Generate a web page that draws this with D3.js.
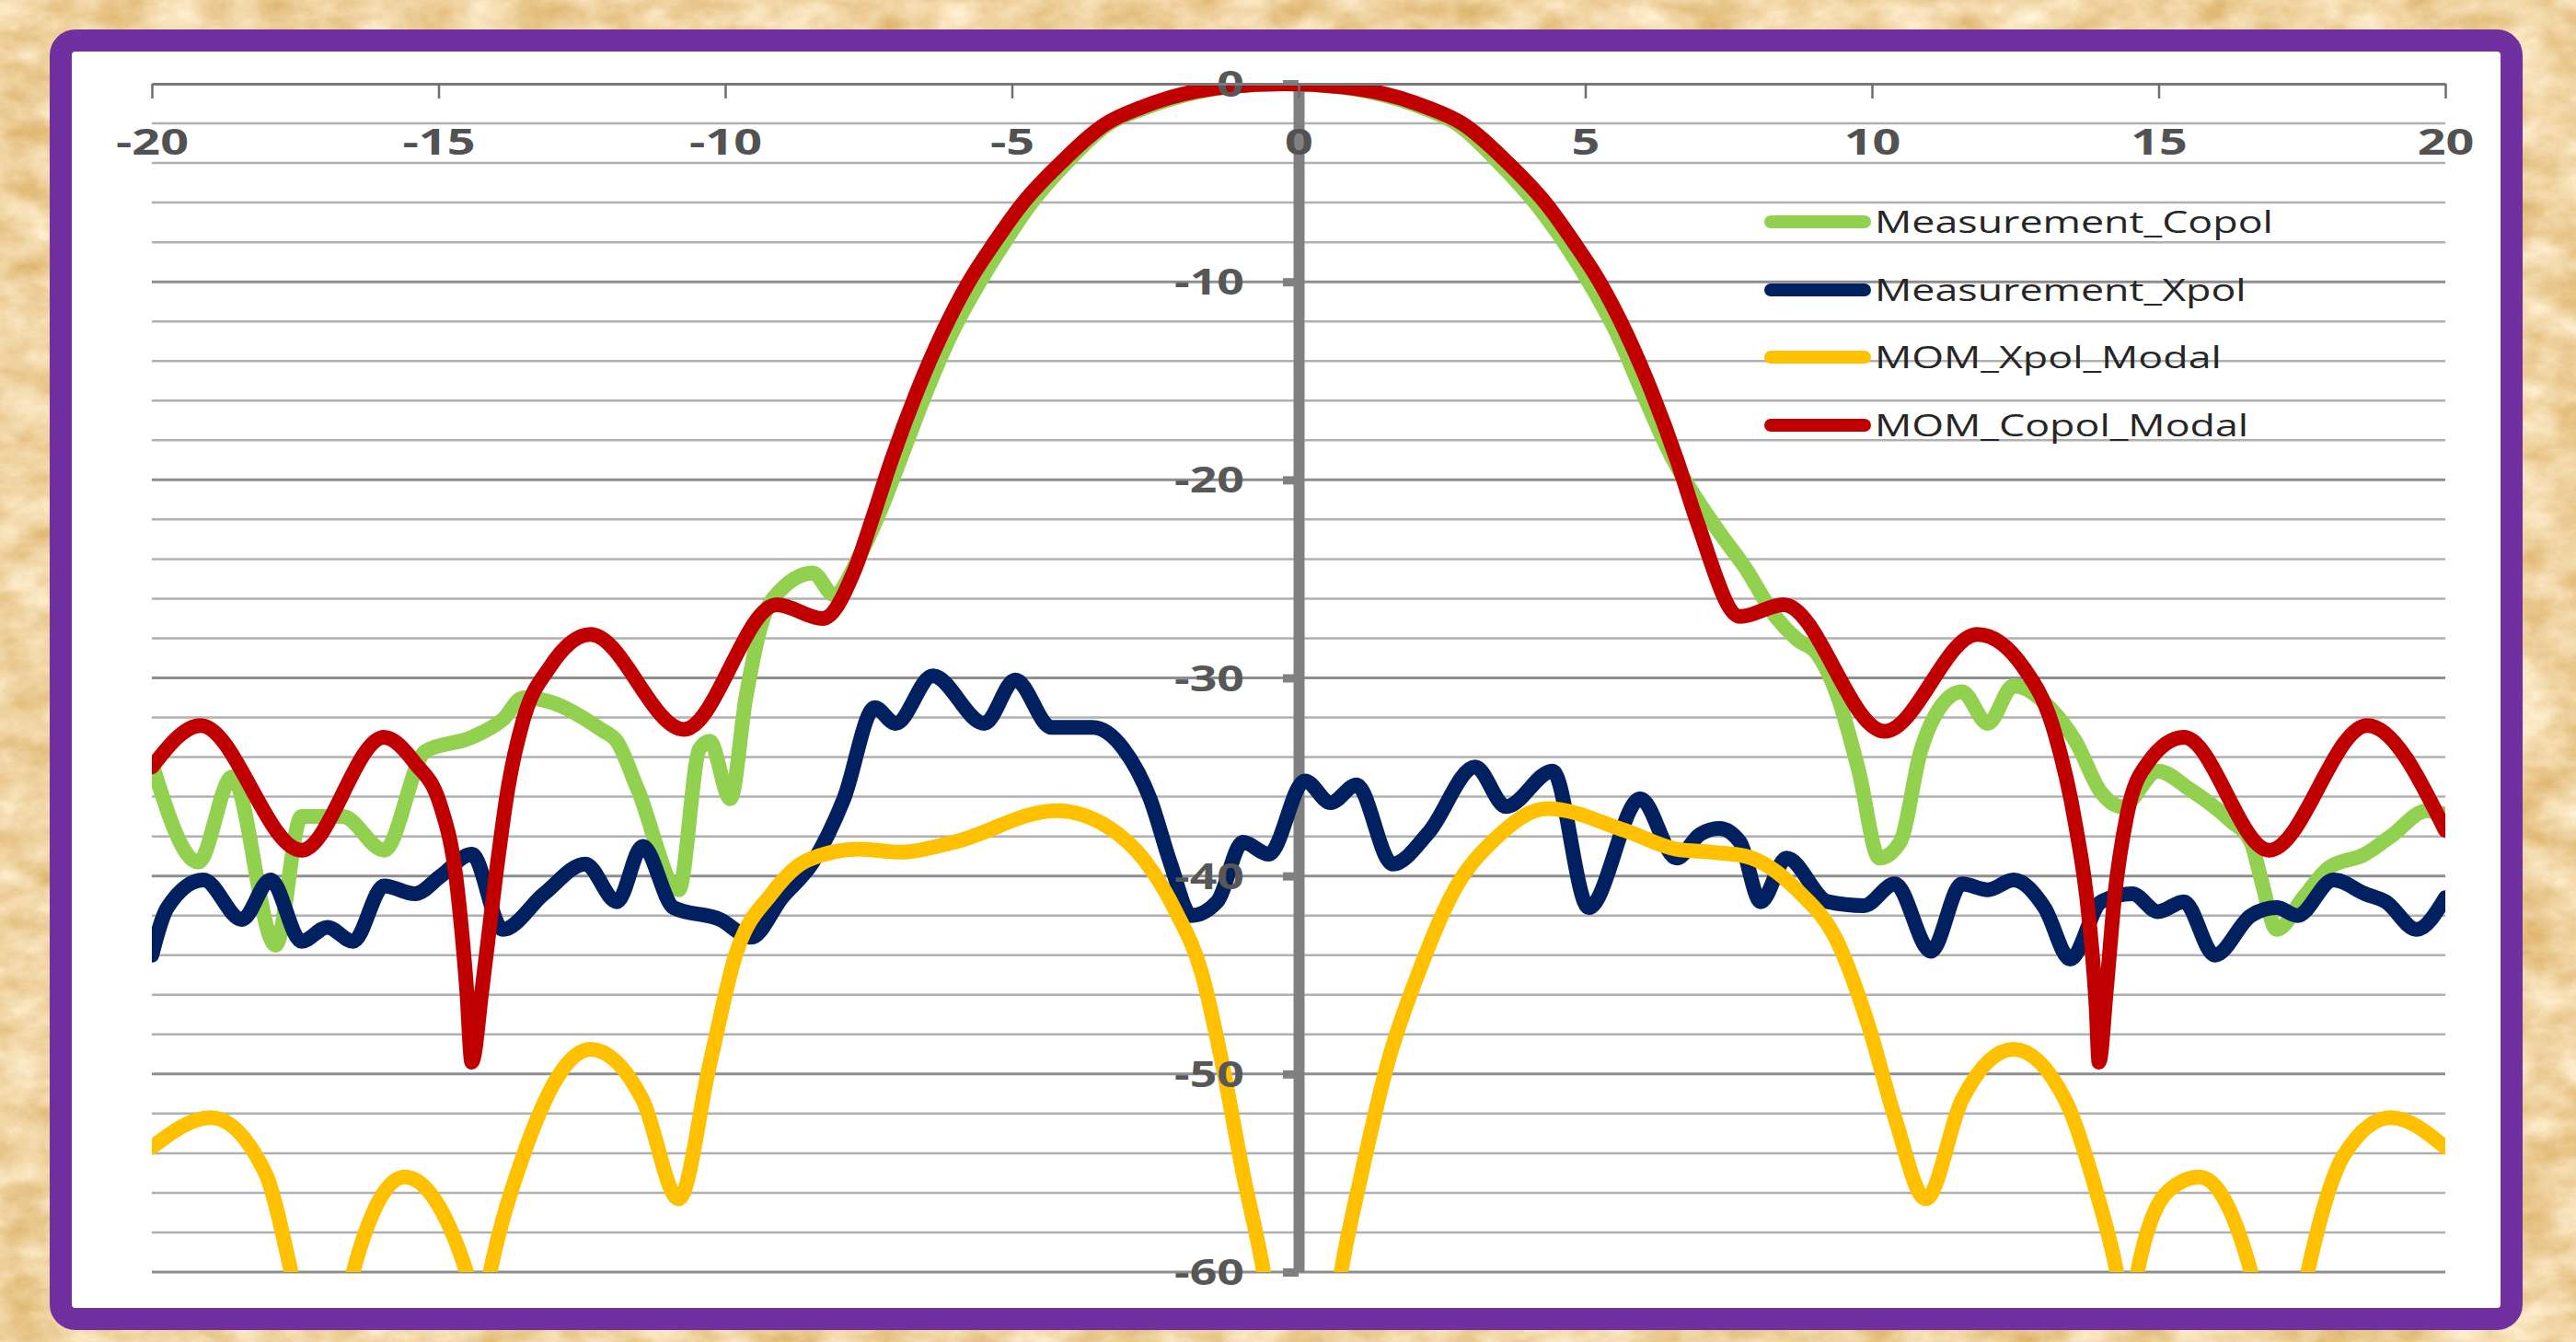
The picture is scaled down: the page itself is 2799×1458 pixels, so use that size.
<!DOCTYPE html>
<html><head><meta charset="utf-8">
<script src="https://cdn.jsdelivr.net/npm/d3@7"></script>
<style>html,body{margin:0;padding:0;background:#efd3a0;overflow:hidden}</style>
</head><body>
<svg id="chart" width="2799" height="1458"></svg>
<script>
// ---------------- DATA ----------------
const seriesNames = ["Measurement_Copol", "Measurement_Xpol", "MOM_Xpol_Modal", "MOM_Copol_Modal"];
const seriesColors = ["#92d050", "#002060", "#ffc000", "#c00000"];
const xTickValues = [-20, -15, -10, -5, 0, 5, 10, 15, 20];
const yTickValues = [0, -10, -20, -30, -40, -50, -60];
const yGridValues = [-2,-4,-6,-8,-10,-12,-14,-16,-18,-20,-22,-24,-26,-28,-30,-32,-34,-36,-38,-40,-42,-44,-46,-48,-50,-52,-54,-56,-58,-60];

// Measurement_Copol
const measCopolAngles = [-20,-19.19,-18.6,-17.84,-17.39,-16.67,-15.95,-15.23,-14.42,-13.88,-13.52,-13.07,-12.17,-11.89,-11.53,-10.81,-10.45,-10.27,-9.91,-9.64,-9.37,-9.01,-8.47,-8.11,-7.65,-7.3,-6.95,-6.5,-6.05,-5.6,-5.15,-4.68,-4.05,-3.3,-2.7,-2.2,-1.2,-0.25,0.7,1.7,2.2,2.75,3.5,4.15,4.65,5.1,5.55,6.0,6.5,6.95,7.35,7.78,8.33,8.69,9.05,9.41,9.77,10.13,10.49,10.85,11.21,11.57,12.02,12.47,13.1,13.55,14.0,14.36,14.99,15.53,16.25,16.61,16.79,17.06,17.52,17.96,18.6,19.05,19.68,20];
const measCopolValues = [-34.3,-39.3,-35.0,-43.5,-37.0,-37.0,-38.7,-33.7,-33.0,-32.1,-31.0,-31.2,-32.6,-33.2,-35.6,-40.7,-33.6,-33.2,-36.1,-31.0,-27.3,-25.5,-24.7,-25.8,-23.8,-21.6,-19.0,-15.6,-12.6,-10.2,-8.1,-6.1,-4.0,-2.0,-1.25,-0.75,-0.15,0,-0.15,-0.75,-1.25,-2.0,-4.0,-6.1,-8.1,-10.2,-12.6,-15.6,-18.8,-21.0,-22.7,-24.4,-26.95,-28.05,-28.8,-31.0,-34.7,-39.1,-38.3,-33.7,-31.4,-30.7,-32.3,-30.4,-31.5,-33.2,-35.8,-36.5,-34.7,-35.6,-37.2,-38.3,-40.2,-42.7,-41.1,-39.6,-38.9,-38.0,-36.7,-36.9];

// Measurement_Xpol
const measXpolAngles = [-20,-19.73,-19.1,-18.43,-17.93,-17.39,-16.94,-16.49,-15.95,-15.41,-14.96,-14.42,-13.88,-13.16,-12.44,-11.89,-11.44,-10.9,-10.09,-9.55,-9.01,-8.47,-7.93,-7.39,-7.03,-6.38,-5.48,-4.94,-4.31,-3.59,-3.05,-2.59,-2.23,-1.87,-1.42,-0.97,-0.52,0.11,0.56,1.01,1.64,2.27,3.08,3.62,4.43,5.06,5.96,6.59,7.0,7.34,7.7,8.06,8.51,9.23,9.86,10.4,11.03,11.57,12.02,12.47,13.01,13.46,14.0,14.54,14.99,15.44,15.98,16.61,17.06,17.42,18.05,18.6,18.96,19.5,20];
const measXpolValues = [-44.0,-41.6,-40.2,-42.2,-40.2,-43.3,-42.6,-43.3,-40.5,-40.9,-40.0,-38.9,-42.7,-40.9,-39.4,-41.3,-38.5,-41.6,-42.2,-43.1,-41.1,-39.3,-36.1,-31.5,-32.3,-29.9,-32.3,-30.1,-32.5,-32.5,-33.6,-36.1,-39.4,-42.0,-41.3,-38.3,-38.9,-35.2,-36.3,-35.4,-39.4,-37.8,-34.5,-36.5,-34.7,-41.6,-36.1,-39.1,-37.9,-37.6,-38.3,-41.3,-39.1,-41.3,-41.5,-40.4,-43.8,-40.4,-40.7,-40.2,-41.6,-44.2,-41.3,-40.9,-41.8,-41.3,-44.0,-42.0,-41.6,-42.0,-40.2,-40.9,-41.3,-42.7,-41.1];

// MOM_Xpol_Modal
const momXpolAngles = [-20,-18.97,-18.02,-17.57,-17.0,-16.49,-15.59,-14.51,-14.3,-14.1,-13.52,-12.35,-11.44,-10.81,-10.27,-9.82,-9.19,-8.56,-7.66,-6.92,-6.02,-4.22,-3.31,-2.69,-2.14,-1.69,-1.33,-0.97,-0.61,0.06,0.74,1.1,1.55,2.09,2.72,3.44,4.34,5.69,6.59,7.21,7.79,8.69,9.41,9.95,10.4,10.94,11.57,12.47,13.37,13.91,14.27,14.45,14.63,15.17,15.71,16.61,17.1,17.6,18.23,19.05,20];
const momXpolValues = [-53.7,-52.2,-55.0,-60,-68,-60,-55.2,-60,-63,-60,-54.1,-48.75,-51.3,-56.3,-49.5,-44.0,-40.9,-39.2,-38.65,-38.8,-38.3,-36.7,-37.55,-39.2,-41.8,-44.9,-49.5,-55.0,-60,-75,-60,-55.0,-49.5,-44.9,-40.7,-38.1,-36.6,-37.7,-38.65,-38.8,-39.0,-40.7,-43.4,-47.65,-52.2,-56.3,-51.3,-48.75,-51.3,-55.9,-60,-63,-60,-55.9,-55.2,-60,-68,-60,-54.1,-52.2,-53.7];

// MOM_Copol_Modal
const momCopolAngles = [-20,-19.15,-17.39,-15.95,-15.41,-14.96,-14.69,-14.51,-14.42,-14.24,-14.01,-13.79,-13.52,-13.07,-12.35,-10.72,-9.1,-8.3,-7.75,-7.45,-7.1,-6.65,-6.2,-5.75,-5.3,-4.8,-4.15,-3.35,-2.75,-2.25,-1.25,-0.25,0.75,1.75,2.25,2.85,3.65,4.3,4.8,5.25,5.7,6.15,6.6,6.95,7.7,8.46,10.22,11.84,12.65,13.19,13.55,13.78,13.91,13.96,14.09,14.23,14.45,14.81,15.44,16.93,18.64,20];
const momCopolValues = [-34.5,-32.4,-38.7,-33.0,-34.3,-36.5,-40.2,-45.7,-49.4,-45.7,-40.2,-35.6,-32.1,-29.5,-27.8,-32.6,-26.3,-27.0,-24.6,-22.1,-19.0,-15.5,-12.5,-10.0,-8.0,-6.0,-4.0,-2.0,-1.2,-0.7,-0.15,0,-0.15,-0.7,-1.2,-2.0,-4.0,-6.0,-8.0,-10.0,-12.5,-15.5,-19.0,-22.1,-26.9,-26.3,-32.7,-27.8,-29.5,-32.8,-37.4,-42.0,-46.6,-49.4,-45.7,-41.1,-36.9,-34.3,-33.0,-38.7,-32.4,-37.7];

const seriesAngles = [measCopolAngles, measXpolAngles, momXpolAngles, momCopolAngles];
const seriesValues = [measCopolValues, measXpolValues, momXpolValues, momCopolValues];

// ---------------- DRAWING ----------------
const W = 2799, H = 1458;
const svg = d3.select("#chart");
const defs = svg.append("defs");

// parchment background
const f = defs.append("filter").attr("id", "paper").attr("x", 0).attr("y", 0).attr("width", "100%").attr("height", "100%")
  .attr("color-interpolation-filters", "sRGB");
f.append("feTurbulence").attr("type", "fractalNoise").attr("baseFrequency", "0.018 0.03").attr("numOctaves", 5).attr("seed", 4).attr("result", "n");
f.append("feColorMatrix").attr("in", "n").attr("type", "matrix")
  .attr("values", "0.18 0 0 0 0.85  0.32 0 0 0 0.67  0.55 0 0 0 0.36  0 0 0 0 1");
svg.append("rect").attr("width", W).attr("height", H).attr("filter", "url(#paper)");

// frame
svg.append("rect").attr("x", 66).attr("y", 44).attr("width", 2663).attr("height", 1389)
  .attr("rx", 16).attr("fill", "#ffffff").attr("stroke", "#7030a0").attr("stroke-width", 24);

const x = d3.scaleLinear().domain([-20, 20]).range([165, 2657]);
const y = d3.scaleLinear().domain([0, -60]).range([91, 1382]);

defs.append("clipPath").attr("id", "plotclip").append("rect")
  .attr("x", x(-20)).attr("y", y(0)).attr("width", x(20) - x(-20)).attr("height", y(-60) - y(0));

// gridlines
svg.append("g").selectAll("line").data(yGridValues).join("line")
  .attr("x1", x(-20)).attr("x2", x(20))
  .attr("y1", d => y(d)).attr("y2", d => y(d))
  .attr("stroke", d => d % 10 === 0 ? "#8e8e8e" : "#b0b0b0")
  .attr("stroke-width", d => d % 10 === 0 ? 3 : 2.5);

// top x axis (labels below the line, ticks pointing down)
const xAxisG = svg.append("g").attr("transform", `translate(0,${y(0)})`)
  .call(d3.axisBottom(x).tickValues(xTickValues).tickFormat(d => String(d)).tickSize(16).tickSizeOuter(0).tickPadding(33));
xAxisG.select(".domain").attr("stroke", "#7a7a7a").attr("stroke-width", 3);
xAxisG.selectAll(".tick line").attr("stroke", "#6e6e6e").attr("stroke-width", 2.5);
xAxisG.selectAll(".tick text")
  .attr("font-family", "'Open Sans', 'DejaVu Sans', sans-serif").attr("font-weight", 700)
  .attr("font-size", 39).attr("fill", "#525252");

// vertical axis at x = 0
const yAxisG = svg.append("g").attr("transform", `translate(${x(0)},0)`)
  .call(d3.axisLeft(y).tickValues(yTickValues).tickFormat(d => String(d)).tickSize(17).tickSizeOuter(0).tickPadding(42));
yAxisG.select(".domain").attr("stroke", "#808080").attr("stroke-width", 12);
yAxisG.selectAll(".tick line").attr("stroke", "#808080").attr("stroke-width", 9);
yAxisG.selectAll(".tick text").remove();

// series
const line = d3.line().x(d => x(d[0])).y(d => y(d[1])).curve(d3.curveMonotoneX);
const plot = svg.append("g").attr("clip-path", "url(#plotclip)");
seriesNames.forEach((name, i) => {
  const pts = seriesAngles[i].map((a, k) => [a, seriesValues[i][k]]);
  plot.append("path").datum(pts).attr("d", line)
    .attr("fill", "none").attr("stroke", seriesColors[i]).attr("stroke-width", 16)
    .attr("stroke-linejoin", "round").attr("stroke-linecap", "round");
});

// y labels (drawn on top)
const yLab = svg.append("g").attr("transform", `translate(${x(0)},0)`);
const yl = yLab.selectAll("text").data(yTickValues).join("text")
  .text(d => String(d))
  .attr("font-family", "'Open Sans', 'DejaVu Sans', sans-serif").attr("font-weight", 700)
  .attr("font-size", 39).attr("fill", "#575757").attr("text-anchor", "end").attr("dy", "0.36em");

// horizontal stretch of text to match the wide original lettering
function widthOf(sel, s) { let w = 0; sel.each(function () { if (this.textContent === s) w = this.getComputedTextLength(); }); return w; }
const sxX = 79 / widthOf(xAxisG.selectAll(".tick text"), "-20");
xAxisG.selectAll(".tick text").attr("transform", `scale(${sxX},1)`);
const sxY = 76 / widthOf(yl, "-30");
yl.attr("x", 0).attr("transform", d => `translate(-59,${y(d)}) scale(${sxY},1)`);
xAxisG.raise();

// legend
const legendY = [241, 315, 388, 462];
const lg = svg.append("g");
lg.selectAll("line").data(seriesNames).join("line")
  .attr("x1", 1924).attr("x2", 2026)
  .attr("y1", (d, i) => legendY[i]).attr("y2", (d, i) => legendY[i])
  .attr("stroke", (d, i) => seriesColors[i]).attr("stroke-width", 14).attr("stroke-linecap", "round");
const lt = lg.selectAll("text").data(seriesNames).join("text")
  .text(d => d)
  .attr("font-family", "'Open Sans', 'DejaVu Sans', sans-serif").attr("font-size", 33)
  .attr("fill", "#262626");
const sxL = 433 / widthOf(lt, "Measurement_Copol");
lt.attr("x", 0).attr("transform", (d, i) => `translate(2037,${legendY[i] + 11.5}) scale(${sxL},1)`);
</script>
</body></html>
